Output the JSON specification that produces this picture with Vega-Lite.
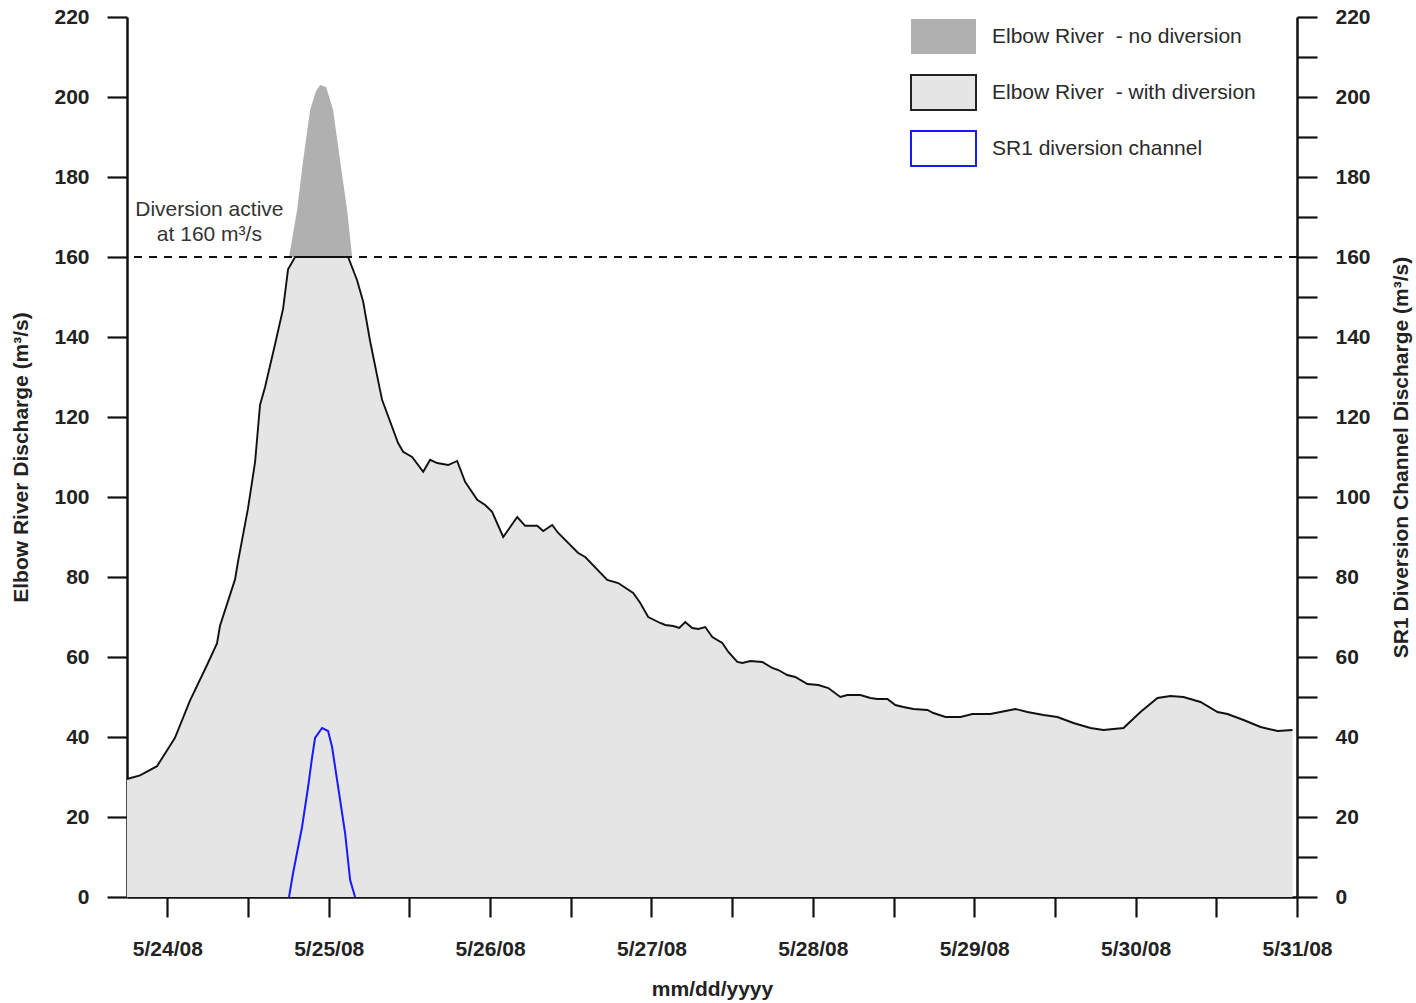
{
  "$schema": "https://vega.github.io/schema/vega-lite/v6.json",
  "width": 1170,
  "height": 880,
  "autosize": {"type": "none"},
  "padding": {"left": 127, "top": 17, "right": 119, "bottom": 106},
  "background": "white",
  "config": {
    "view": {"stroke": null},
    "font": "Liberation Sans",
    "axis": {
      "domainColor": "#111", "domainWidth": 2.5, "tickColor": "#111", "tickWidth": 2.2,
      "tickSize": 20, "labelFont": "Liberation Sans", "labelFontWeight": "bold", "labelFontSize": 21,
      "labelColor": "#222", "titleFont": "Liberation Sans", "titleFontWeight": "bold", "titleFontSize": 21,
      "titleColor": "#222", "grid": false
    }
  },
  "datasets": {
    "river": [
      {"t":"2008-05-23T18:00:00Z","q":29.5},{"t":"2008-05-23T19:56:00Z","q":30.4},{"t":"2008-05-23T22:28:00Z","q":32.7},
      {"t":"2008-05-24T01:08:00Z","q":39.8},{"t":"2008-05-24T03:22:00Z","q":49.1},{"t":"2008-05-24T05:54:00Z","q":58},
      {"t":"2008-05-24T07:23:00Z","q":63.4},{"t":"2008-05-24T07:50:00Z","q":67.8},{"t":"2008-05-24T10:04:00Z","q":79.4},
      {"t":"2008-05-24T10:31:00Z","q":83.9},{"t":"2008-05-24T12:00:00Z","q":97.2},{"t":"2008-05-24T13:03:00Z","q":108.8},
      {"t":"2008-05-24T13:47:00Z","q":123},{"t":"2008-05-24T14:32:00Z","q":127.5},{"t":"2008-05-24T16:01:00Z","q":138.2},
      {"t":"2008-05-24T17:13:00Z","q":147.1},{"t":"2008-05-24T17:57:00Z","q":156.9},{"t":"2008-05-24T19:00:00Z","q":160},
      {"t":"2008-05-25T02:53:00Z","q":160},{"t":"2008-05-25T04:13:00Z","q":154.2},{"t":"2008-05-25T05:07:00Z","q":148.9},
      {"t":"2008-05-25T06:09:00Z","q":139},{"t":"2008-05-25T07:39:00Z","q":126.6},{"t":"2008-05-25T07:56:00Z","q":124.3},
      {"t":"2008-05-25T10:19:00Z","q":113.5},{"t":"2008-05-25T11:04:00Z","q":111.3},{"t":"2008-05-25T12:24:00Z","q":110},
      {"t":"2008-05-25T14:03:00Z","q":106.3},{"t":"2008-05-25T15:05:00Z","q":109.3},{"t":"2008-05-25T16:08:00Z","q":108.5},
      {"t":"2008-05-25T17:46:00Z","q":108},{"t":"2008-05-25T19:06:00Z","q":109},{"t":"2008-05-25T20:17:00Z","q":103.8},
      {"t":"2008-05-25T22:05:00Z","q":99.3},{"t":"2008-05-25T23:16:00Z","q":98},{"t":"2008-05-26T00:18:00Z","q":96.3},
      {"t":"2008-05-26T01:57:00Z","q":90},{"t":"2008-05-26T04:02:00Z","q":95},{"t":"2008-05-26T05:13:00Z","q":92.8},
      {"t":"2008-05-26T07:00:00Z","q":92.8},{"t":"2008-05-26T07:54:00Z","q":91.5},{"t":"2008-05-26T09:14:00Z","q":93},
      {"t":"2008-05-26T10:08:00Z","q":91},{"t":"2008-05-26T13:06:00Z","q":86},{"t":"2008-05-26T14:09:00Z","q":85},
      {"t":"2008-05-26T17:25:00Z","q":79.3},{"t":"2008-05-26T19:03:00Z","q":78.5},{"t":"2008-05-26T21:17:00Z","q":76},
      {"t":"2008-05-26T22:20:00Z","q":73.5},{"t":"2008-05-26T23:31:00Z","q":70},{"t":"2008-05-27T01:18:00Z","q":68.5},
      {"t":"2008-05-27T02:03:00Z","q":68},{"t":"2008-05-27T03:14:00Z","q":67.75},{"t":"2008-05-27T04:08:00Z","q":67.25},
      {"t":"2008-05-27T05:01:00Z","q":68.75},{"t":"2008-05-27T06:04:00Z","q":67.25},{"t":"2008-05-27T06:58:00Z","q":67},
      {"t":"2008-05-27T08:00:00Z","q":67.5},{"t":"2008-05-27T09:03:00Z","q":65},{"t":"2008-05-27T10:32:00Z","q":63.5},
      {"t":"2008-05-27T11:26:00Z","q":61.25},{"t":"2008-05-27T12:46:00Z","q":58.75},{"t":"2008-05-27T13:31:00Z","q":58.5},
      {"t":"2008-05-27T14:42:00Z","q":59},{"t":"2008-05-27T16:29:00Z","q":58.75},{"t":"2008-05-27T17:58:00Z","q":57.25},
      {"t":"2008-05-27T18:52:00Z","q":56.75},{"t":"2008-05-27T20:12:00Z","q":55.5},{"t":"2008-05-27T21:23:00Z","q":55},
      {"t":"2008-05-27T23:11:00Z","q":53.25},{"t":"2008-05-28T00:49:00Z","q":53},{"t":"2008-05-28T02:18:00Z","q":52.25},
      {"t":"2008-05-28T04:05:00Z","q":50},{"t":"2008-05-28T05:08:00Z","q":50.5},{"t":"2008-05-28T07:04:00Z","q":50.5},
      {"t":"2008-05-28T08:33:00Z","q":49.75},{"t":"2008-05-28T09:36:00Z","q":49.5},{"t":"2008-05-28T11:05:00Z","q":49.5},
      {"t":"2008-05-28T12:16:00Z","q":48},{"t":"2008-05-28T13:28:00Z","q":47.5},{"t":"2008-05-28T14:57:00Z","q":47},
      {"t":"2008-05-28T17:02:00Z","q":46.75},{"t":"2008-05-28T17:56:00Z","q":46},{"t":"2008-05-28T19:43:00Z","q":45},
      {"t":"2008-05-28T21:57:00Z","q":45},{"t":"2008-05-28T23:44:00Z","q":45.75},{"t":"2008-05-29T02:24:00Z","q":45.75},
      {"t":"2008-05-29T03:54:00Z","q":46.25},{"t":"2008-05-29T06:08:00Z","q":47},{"t":"2008-05-29T07:55:00Z","q":46.25},
      {"t":"2008-05-29T10:18:00Z","q":45.5},{"t":"2008-05-29T12:22:00Z","q":45},{"t":"2008-05-29T14:45:00Z","q":43.5},
      {"t":"2008-05-29T17:17:00Z","q":42.25},{"t":"2008-05-29T19:13:00Z","q":41.75},{"t":"2008-05-29T22:12:00Z","q":42.25},
      {"t":"2008-05-30T00:43:00Z","q":46.25},{"t":"2008-05-30T03:15:00Z","q":49.75},{"t":"2008-05-30T05:11:00Z","q":50.25},
      {"t":"2008-05-30T07:07:00Z","q":50},{"t":"2008-05-30T09:39:00Z","q":48.75},{"t":"2008-05-30T12:11:00Z","q":46.25},
      {"t":"2008-05-30T13:40:00Z","q":45.75},{"t":"2008-05-30T16:03:00Z","q":44.25},{"t":"2008-05-30T18:35:00Z","q":42.5},
      {"t":"2008-05-30T21:07:00Z","q":41.5},{"t":"2008-05-30T23:20:00Z","q":41.75}
    ],
    "nodiv": [
      {"t":"2008-05-24T18:06:00Z","q":160},{"t":"2008-05-24T19:18:00Z","q":171.75},{"t":"2008-05-24T20:11:00Z","q":184},
      {"t":"2008-05-24T21:14:00Z","q":196.75},{"t":"2008-05-24T22:07:00Z","q":201.5},{"t":"2008-05-24T22:43:00Z","q":203},
      {"t":"2008-05-24T23:37:00Z","q":202.5},{"t":"2008-05-25T00:39:00Z","q":196.75},{"t":"2008-05-25T01:42:00Z","q":184},
      {"t":"2008-05-25T02:44:00Z","q":171.75},{"t":"2008-05-25T03:29:00Z","q":160}
    ],
    "sr1": [
      {"t":"2008-05-24T18:06:00Z","q":0},{"t":"2008-05-24T18:42:00Z","q":6},{"t":"2008-05-24T20:02:00Z","q":17.5},
      {"t":"2008-05-24T20:56:00Z","q":27.5},{"t":"2008-05-24T21:32:00Z","q":35},{"t":"2008-05-24T21:58:00Z","q":39.75},
      {"t":"2008-05-24T23:01:00Z","q":42.25},{"t":"2008-05-24T23:54:00Z","q":41.5},{"t":"2008-05-25T00:30:00Z","q":37.5},
      {"t":"2008-05-25T01:24:00Z","q":27.5},{"t":"2008-05-25T02:26:00Z","q":16},{"t":"2008-05-25T03:11:00Z","q":4.25},
      {"t":"2008-05-25T03:55:00Z","q":0}
    ],
    "one": [{}]
  },
  "resolve": {"scale": {"y": "independent"}},
  "layer": [
    {
      "layer": [
        {
          "data": {"name": "nodiv"},
          "mark": {"type": "area", "opacity": 1, "interpolate": "linear"},
          "encoding": {
            "x": {
              "field": "t", "type": "temporal",
              "scale": {"type": "utc", "domain": [{"year": 2008, "month": 5, "date": 23, "hours": 18, "utc": true}, {"year": 2008, "month": 5, "date": 31, "hours": 0, "utc": true}]},
              "axis": {
                "title": "mm/dd/yyyy",
                "values": [
                  {"year": 2008, "month": 5, "date": 24, "hours": 0, "utc": true},
                  {"year": 2008, "month": 5, "date": 24, "hours": 12, "utc": true},
                  {"year": 2008, "month": 5, "date": 25, "hours": 0, "utc": true},
                  {"year": 2008, "month": 5, "date": 25, "hours": 12, "utc": true},
                  {"year": 2008, "month": 5, "date": 26, "hours": 0, "utc": true},
                  {"year": 2008, "month": 5, "date": 26, "hours": 12, "utc": true},
                  {"year": 2008, "month": 5, "date": 27, "hours": 0, "utc": true},
                  {"year": 2008, "month": 5, "date": 27, "hours": 12, "utc": true},
                  {"year": 2008, "month": 5, "date": 28, "hours": 0, "utc": true},
                  {"year": 2008, "month": 5, "date": 28, "hours": 12, "utc": true},
                  {"year": 2008, "month": 5, "date": 29, "hours": 0, "utc": true},
                  {"year": 2008, "month": 5, "date": 29, "hours": 12, "utc": true},
                  {"year": 2008, "month": 5, "date": 30, "hours": 0, "utc": true},
                  {"year": 2008, "month": 5, "date": 30, "hours": 12, "utc": true},
                  {"year": 2008, "month": 5, "date": 31, "hours": 0, "utc": true}
                ],
                "labelExpr": "utchours(datum.value) === 0 ? utcFormat(datum.value, '%-m/%-d/%y') : ''",
                "labelOverlap": false, "labelFlush": false, "labelPadding": 21, "titlePadding": 19
              }
            },
            "y": {
              "field": "q", "type": "quantitative",
              "scale": {"domain": [0, 220], "nice": false},
              "axis": {
                "title": "Elbow River Discharge (m³/s)",
                "values": [0,10,20,30,40,50,60,70,80,90,100,110,120,130,140,150,160,170,180,190,200,210,220],
                "labelExpr": "datum.value % 20 === 0 ? datum.label : ''",
                "labelPadding": 18, "titlePadding": 22, "labelOverlap": false, "labelFlush": false
              }
            },
            "y2": {"datum": 160},
            "fill": {
              "datum": "Elbow River\u00a0 - no diversion", "type": "nominal",
              "scale": {"domain": ["Elbow River\u00a0 - no diversion", "Elbow River\u00a0 - with diversion", "SR1 diversion channel"], "range": ["#b0b0b0", "#e5e5e5", "#ffffff"]},
              "legend": {
                "title": null, "orient": "none", "legendX": 783, "legendY": -14,
                "symbolType": "M-1,-0.54H1V0.54H-1Z", "symbolSize": 4225, "symbolStrokeWidth": 2,
                "symbolOpacity": 1, "labelFont": "Liberation Sans", "labelFontSize": 21, "labelColor": "#2a2a2a",
                "labelOffset": 15, "rowPadding": 0, "padding": 0, "labelLimit": 400,
                "encode": {"symbols": {"update": {
                  "stroke": {"signal": "datum.value === 'SR1 diversion channel' ? '#1a1aff' : (datum.value === 'Elbow River\u00a0 - with diversion' ? '#222222' : 'transparent')"},
                  "strokeWidth": {"value": 2}
                }}}
              }
            }
          }
        },
        {
          "data": {"name": "river"},
          "mark": {"type": "area", "opacity": 1},
          "encoding": {
            "x": {"field": "t", "type": "temporal"},
            "y": {"field": "q", "type": "quantitative"},
            "fill": {"datum": "Elbow River\u00a0 - with diversion", "type": "nominal"}
          }
        },
        {
          "data": {"name": "one"},
          "mark": {"type": "rule", "color": "#111", "strokeWidth": 2.2, "strokeDash": [8, 7]},
          "encoding": {"y": {"datum": 160}}
        },
        {
          "data": {"name": "river"},
          "mark": {"type": "line", "color": "#111", "strokeWidth": 1.9},
          "encoding": {
            "x": {"field": "t", "type": "temporal"},
            "y": {"field": "q", "type": "quantitative"}
          }
        },
        {
          "data": {"name": "one"},
          "mark": {"type": "text", "fontSize": 21, "fill": "#333", "lineHeight": 25, "align": "center", "baseline": "middle", "font": "Liberation Sans", "lineBreak": "\n"},
          "encoding": {
            "x": {"datum": {"year": 2008, "month": 5, "date": 24, "hours": 6, "minutes": 15, "utc": true}, "type": "temporal"},
            "y": {"datum": 171.75, "type": "quantitative"},
            "text": {"value": "Diversion active\nat 160 m³/s"}
          }
        }
      ]
    },
    {
      "data": {"name": "sr1"},
      "mark": {"type": "line", "color": "#1a1aff", "strokeWidth": 2},
      "encoding": {
        "x": {"field": "t", "type": "temporal"},
        "y": {
          "field": "q", "type": "quantitative",
          "scale": {"domain": [0, 220], "nice": false},
          "axis": {
            "orient": "right",
            "title": "SR1 Diversion Channel Discharge (m³/s)",
            "titleAngle": -90, "titleBaseline": "top",
            "values": [0,10,20,30,40,50,60,70,80,90,100,110,120,130,140,150,160,170,180,190,200,210,220],
            "labelExpr": "datum.value % 20 === 0 ? datum.label : ''",
            "labelPadding": 18, "titlePadding": 20, "labelOverlap": false, "labelFlush": false
          }
        }
      }
    }
  ]
}
